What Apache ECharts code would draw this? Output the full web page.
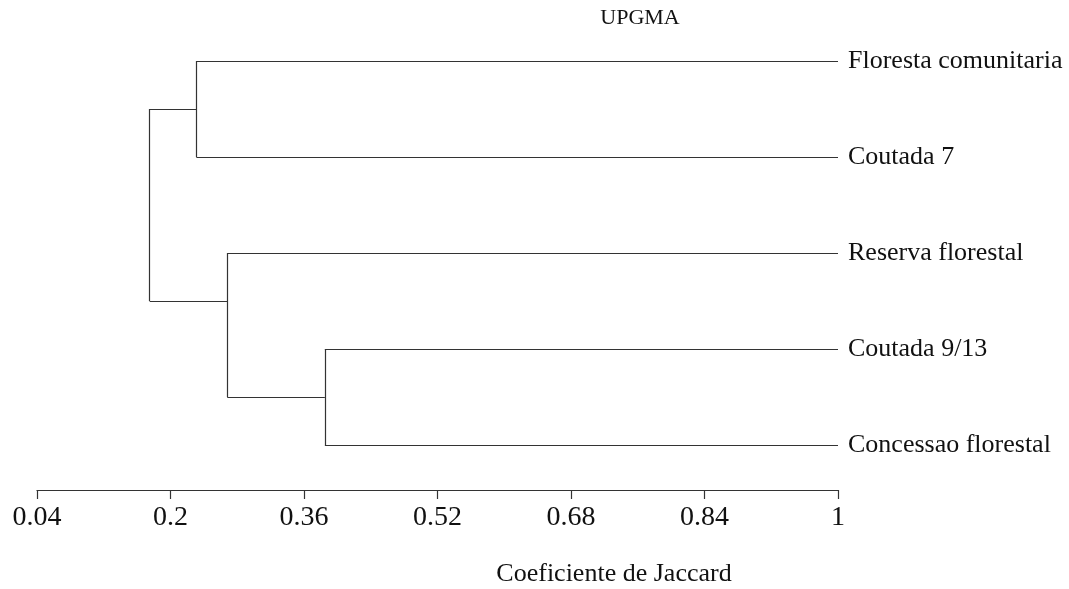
<!DOCTYPE html>
<html>
<head>
<meta charset="utf-8">
<script src="https://cdn.jsdelivr.net/npm/echarts@6/dist/echarts.min.js"></script>
<style>
  html, body { margin: 0; padding: 0; background: #fff; }
  #chart { width: 1069px; height: 589px; }
</style>
</head>
<body>
<div id="chart"></div>
<script>
// Sites, listed top to bottom as they appear in the tree
const leafNames = ['Floresta comunitaria', 'Coutada 7', 'Reserva florestal', 'Coutada 9/13', 'Concessao florestal'];
// UPGMA merge steps: node ids 0-4 are leaves, merge k creates node 5 + k
const mergeLeft = [3, 2, 0, 7];
const mergeRight = [4, 5, 1, 6];
const mergeHeight = [0.385, 0.268, 0.231, 0.175]; // Jaccard similarity at each join
const leafHeight = 1;
// Axis tick values
const tickValues = [0.04, 0.2, 0.36, 0.52, 0.68, 0.84, 1];

const SERIF = "'Liberation Serif', 'DejaVu Serif', serif";
const nLeaves = leafNames.length;
const leafY = leafNames.map((_, i) => nLeaves - i);

function firstLeaf(id) {
  return id < nLeaves ? id : firstLeaf(mergeLeft[id - nLeaves]);
}
function nodeHeight(id) {
  return id < nLeaves ? leafHeight : mergeHeight[id - nLeaves];
}
function attachY(id) {
  if (id < nLeaves) return leafY[id];
  const k = id - nLeaves;
  return (leafY[firstLeaf(mergeLeft[k])] + leafY[firstLeaf(mergeRight[k])]) / 2;
}

// Build the elbow segments of the dendrogram
const segments = [];
mergeHeight.forEach((h, k) => {
  const L = mergeLeft[k], R = mergeRight[k];
  const yl = attachY(L), yr = attachY(R);
  segments.push({ coords: [[h, yl], [h, yr]] });
  segments.push({ coords: [[nodeHeight(L), yl], [h, yl]] });
  segments.push({ coords: [[nodeHeight(R), yr], [h, yr]] });
});

const chart = echarts.init(document.getElementById('chart'));
chart.setOption({
  animation: false,
  backgroundColor: '#fff',
  grid: { left: 37, right: 231, top: 13, bottom: 99, outerBoundsMode: 'none' },
  xAxis: {
    type: 'value',
    min: 0.04,
    max: 1,
    splitLine: { show: false },
    axisLine: { show: true, lineStyle: { color: '#333', width: 1.2 } },
    axisTick: { show: true, customValues: tickValues, length: 9, lineStyle: { color: '#333', width: 1.2 } },
    axisLabel: {
      customValues: tickValues,
      margin: 14,
      fontFamily: SERIF,
      fontSize: 28,
      color: '#111',
      formatter: v => String(+(+v).toFixed(2))
    }
  },
  yAxis: {
    type: 'value',
    show: false,
    min: 0.53125,
    max: 5.5
  },
  series: [
    {
      type: 'lines',
      coordinateSystem: 'cartesian2d',
      polyline: false,
      lineStyle: { color: '#333', width: 1.2, opacity: 1, curveness: 0 },
      data: segments,
      silent: true
    },
    {
      type: 'scatter',
      symbolSize: 0,
      itemStyle: { opacity: 1 },
      data: leafNames.map((name, i) => ({ value: [leafHeight, leafY[i]], name })),
      label: {
        show: true,
        position: 'right',
        distance: 10,
        formatter: p => p.name,
        fontFamily: SERIF,
        fontSize: 26,
        color: '#111',
        opacity: 1
      },
      silent: true
    }
  ],
  graphic: [
    {
      type: 'text',
      x: 640, y: 18,
      style: { text: 'UPGMA', font: "22px " + SERIF, fill: '#111', textAlign: 'center', textVerticalAlign: 'middle' }
    },
    {
      type: 'text',
      x: 614, y: 574,
      style: { text: 'Coeficiente de Jaccard', font: "26px " + SERIF, fill: '#111', textAlign: 'center', textVerticalAlign: 'middle' }
    }
  ]
});
</script>
</body>
</html>
